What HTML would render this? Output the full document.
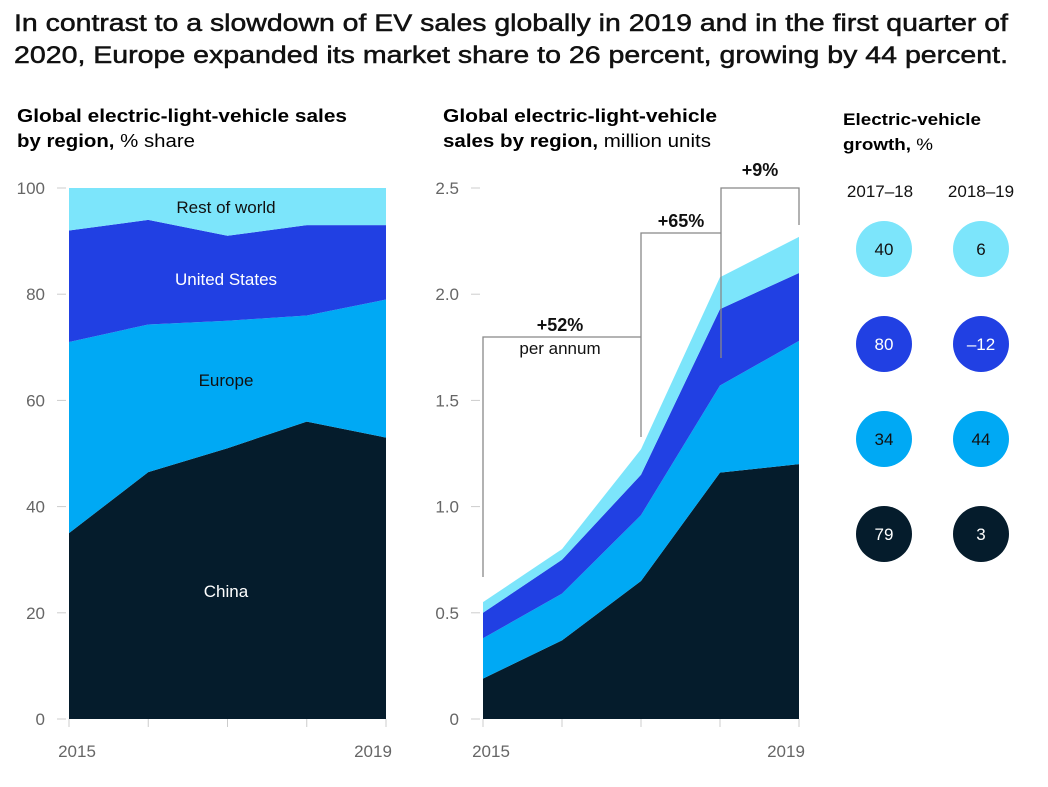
<!DOCTYPE html>
<html><head><meta charset="utf-8"><style>
body{margin:0;background:#fff;width:1048px;height:782px;overflow:hidden;font-family:"Liberation Sans",sans-serif;color:#111}
</style></head><body>
<svg width="1048" height="782" xmlns="http://www.w3.org/2000/svg" font-family="Liberation Sans, sans-serif">
<text x="14" y="31" font-size="24" fill="#111" stroke="#111" stroke-width="0.5" textLength="994" lengthAdjust="spacingAndGlyphs">In contrast to a slowdown of EV sales globally in 2019 and in the first quarter of</text>
<text x="14" y="63" font-size="24" fill="#111" stroke="#111" stroke-width="0.5" textLength="994" lengthAdjust="spacingAndGlyphs">2020, Europe expanded its market share to 26 percent, growing by 44 percent.</text>
<text x="17" y="122" font-size="18" font-weight="bold" textLength="330" lengthAdjust="spacingAndGlyphs">Global electric-light-vehicle sales</text>
<text x="17" y="147" font-size="18" textLength="178" lengthAdjust="spacingAndGlyphs"><tspan font-weight="bold">by region,</tspan> % share</text>
<text x="443" y="122" font-size="18" font-weight="bold" textLength="274" lengthAdjust="spacingAndGlyphs">Global electric-light-vehicle</text>
<text x="443" y="147" font-size="18" textLength="268" lengthAdjust="spacingAndGlyphs"><tspan font-weight="bold">sales by region,</tspan> million units</text>
<text x="843" y="125" font-size="17" font-weight="bold" textLength="138" lengthAdjust="spacingAndGlyphs">Electric-vehicle</text>
<text x="843" y="150" font-size="17" textLength="90" lengthAdjust="spacingAndGlyphs"><tspan font-weight="bold">growth,</tspan> %</text>
<g id="left"></g>
<g id="right"></g>
<g id="bub"></g>
</svg>
<script>
const years=["2015","2016","2017","2018","2019"];
const shareChina=[35,46.5,51,56,53];
const shareEurope=[36,27.8,24,20,26];
const shareUS=[21,19.7,16,17,14];
const shareRest=[8,6,9,7,7];
const unitsChina=[0.19,0.37,0.65,1.16,1.2];
const unitsEurope=[0.19,0.22,0.31,0.41,0.58];
const unitsUS=[0.12,0.16,0.19,0.36,0.32];
const unitsRest=[0.05,0.05,0.12,0.15,0.17];
const leftTicks=[0,20,40,60,80,100];
const rightTicks=["0","0.5","1.0","1.5","2.0","2.5"];
const growth1718=[40,80,34,79];
const growth1819=["6","–12","44","3"];
const colors=["#051c2c","#00a9f4","#2140e3","#7ce5fb"];
const NS="http://www.w3.org/2000/svg";
function mk(p,t,a){const e=document.createElementNS(NS,t);for(const k in a)e.setAttribute(k,a[k]);p.appendChild(e);return e;}
function chart(g,x0,x1,y0,y1,max,series,ticks,tickLabels,names){
  const X=i=>x0+(x1-x0)*i/(years.length-1);
  const Y=v=>y0-(y0-y1)*v/max;
  let base=years.map(()=>0);
  series.forEach((s,si)=>{
    const top=base.map((b,i)=>b+s[i]);
    let d=top.map((v,i)=>(i?"L":"M")+X(i)+","+Y(v)).join("");
    for(let i=years.length-1;i>=0;i--)d+="L"+X(i)+","+Y(base[i]);
    const p=mk(g,"path",{d:d+"Z",fill:colors[si]});
    
    
    base=top;
  });
  ticks.forEach((t,i)=>{
    const y=Y(t);
    const l=mk(g,"line",{x1:x0-12,x2:x0-3,y1:y,y2:y,stroke:"#ccc"});
    
    
    const tx=mk(g,"text",{x:x0-24,y:y+6,"font-size":17,fill:"#666","text-anchor":"end"});
    tx.textContent=tickLabels[i];
    
    
  });
  years.forEach((yr,i)=>{
    const l=mk(g,"line",{x1:X(i),x2:X(i),y1:y0,y2:y0+8,stroke:"#ccc"});
    
    
  });
  [0,years.length-1].forEach(i=>{
    const tx=mk(g,"text",{x:X(i)+(i?-13:8),y:y0+38,"font-size":17,fill:"#666","text-anchor":"middle"});
    tx.textContent=years[i];
    
    
  });
  return {X,Y};
}
const L=document.getElementById("left");
chart(L,69,386,719,188,100,[shareChina,shareEurope,shareUS,shareRest],leftTicks,leftTicks.map(String),["china","europe","us","rest"]);
[["China",597,"#fff"],["Europe",386,"#111"],["United States",285,"#fff"],["Rest of world",213,"#111"]].forEach(a=>{
  const t=mk(L,"text",{x:226,y:a[1],"font-size":17,fill:a[2],"text-anchor":"middle"});t.textContent=a[0];
  
  
});
const R=document.getElementById("right");
chart(R,483,799,719,188,2.5,[unitsChina,unitsEurope,unitsUS,unitsRest],[0,0.5,1,1.5,2,2.5],rightTicks,["china","europe","us","rest"]);
const br=mk(R,"path",{d:"M483,577V337H641V437M641,337V233H721V358M721,233V188H799V225",fill:"none",stroke:"#888","stroke-width":1.3});


[["+52%",560,331,"bold",18],["per annum",560,354,"normal",17],["+65%",681,227,"bold",18],["+9%",760,176,"bold",18]].forEach(a=>{
  const t=mk(R,"text",{x:a[1],y:a[2],"font-size":a[4],"font-weight":a[3],"text-anchor":"middle",fill:"#111"});t.textContent=a[0];
  
  
});
const B=document.getElementById("bub");
[["2017–18",880],["2018–19",981]].forEach(a=>{
  const t=mk(B,"text",{x:a[1],y:197,"font-size":17,"text-anchor":"middle",fill:"#111"});t.textContent=a[0];
  
  
});
const rows=[3,2,1,0];
rows.forEach((ci,r)=>{
  const cy=249+r*95;
  [[884,growth1718[r]],[981,growth1819[r]]].forEach(a=>{
    const c=mk(B,"circle",{cx:a[0],cy:cy,r:28,fill:colors[ci]});
    
    
    const t=mk(B,"text",{x:a[0],y:cy+6,"font-size":17,"text-anchor":"middle",fill:(ci==3||ci==1)?"#111":"#fff"});
    t.textContent=a[1];
    
    
  });
});
</script>
</body></html>
